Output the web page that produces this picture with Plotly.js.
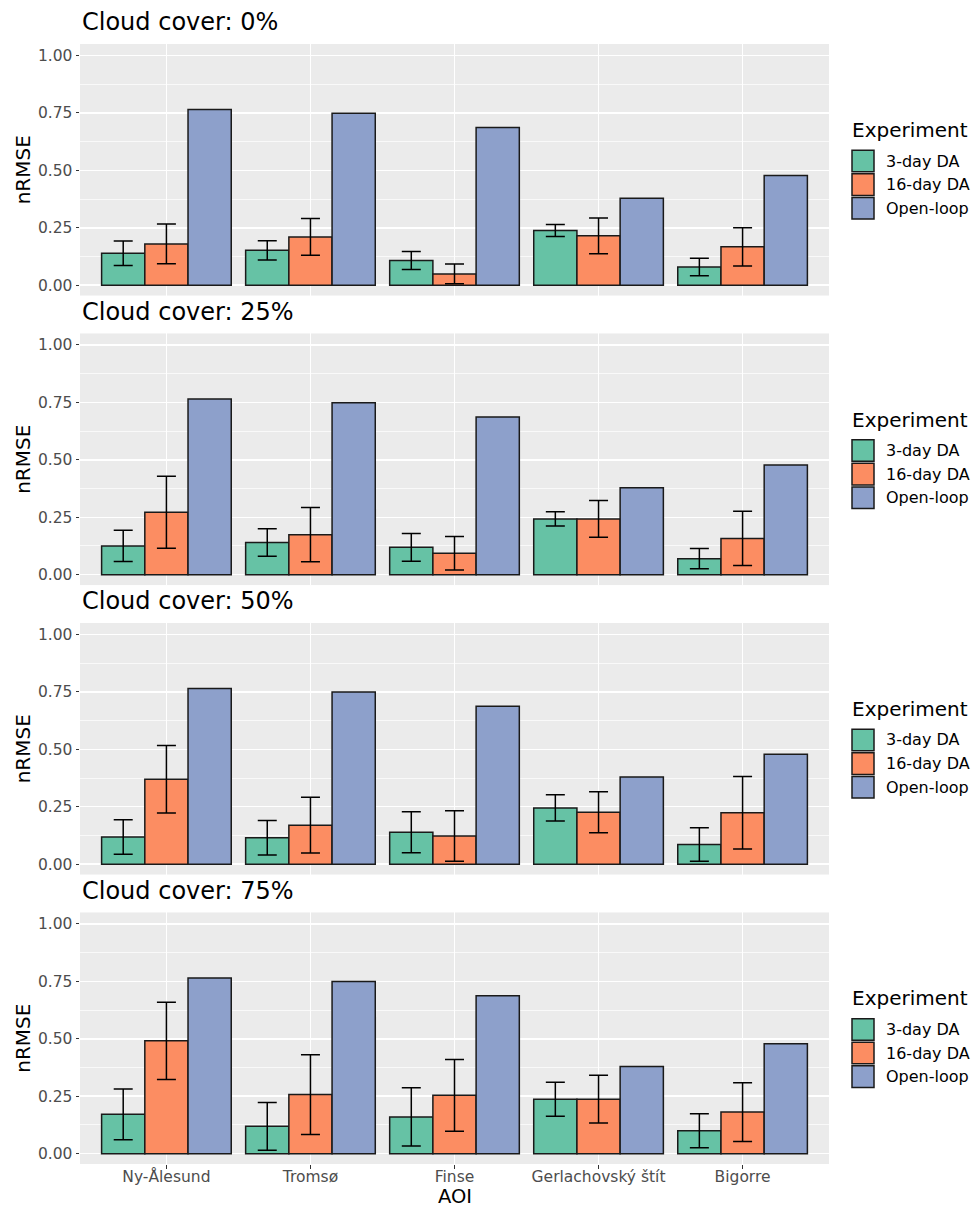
<!DOCTYPE html>
<html>
<head>
<meta charset="utf-8">
<script src="https://cdn.plot.ly/plotly-3.0.1.min.js"></script>
<style>
  html, body { margin: 0; padding: 0; background: #ffffff; }
  #chart { width: 972px; height: 1209px; }
</style>
</head>
<body>
<div id="chart"></div>
<script>
// Areas of interest (x categories) and experiments (bar series)
const aoi = ['Ny-Ålesund', 'Tromsø', 'Finse', 'Gerlachovský štít', 'Bigorre'];
const experiments = ['3-day DA', '16-day DA', 'Open-loop'];
const cloudCover = [0, 25, 50, 75];
const expColors = ['#66C2A5', '#FC8D62', '#8DA0CB'];
const yTicks = [0, 0.25, 0.5, 0.75, 1.0];

// Open-loop nRMSE (independent of cloud cover)
const openLoop = [0.765, 0.749, 0.687, 0.379, 0.478];

// 3-day DA: mean nRMSE and standard deviation per cloud cover
const da3_cc0  = [0.139, 0.152, 0.108, 0.238, 0.079];
const da3_sd0  = [0.053, 0.042, 0.039, 0.026, 0.038];
const da3_cc25 = [0.125, 0.140, 0.119, 0.243, 0.070];
const da3_sd25 = [0.068, 0.060, 0.060, 0.031, 0.044];
const da3_cc50 = [0.118, 0.115, 0.139, 0.245, 0.086];
const da3_sd50 = [0.075, 0.075, 0.089, 0.057, 0.073];
const da3_cc75 = [0.171, 0.119, 0.160, 0.237, 0.100];
const da3_sd75 = [0.110, 0.104, 0.127, 0.074, 0.074];

// 16-day DA: mean nRMSE and standard deviation per cloud cover
const da16_cc0  = [0.180, 0.210, 0.049, 0.215, 0.167];
const da16_sd0  = [0.086, 0.080, 0.043, 0.078, 0.083];
const da16_cc25 = [0.272, 0.174, 0.093, 0.243, 0.158];
const da16_sd25 = [0.157, 0.118, 0.073, 0.080, 0.118];
const da16_cc50 = [0.370, 0.170, 0.123, 0.226, 0.224];
const da16_sd50 = [0.147, 0.121, 0.110, 0.089, 0.158];
const da16_cc75 = [0.491, 0.257, 0.254, 0.237, 0.181];
const da16_sd75 = [0.168, 0.174, 0.156, 0.104, 0.128];

const da3 = [da3_cc0, da3_cc25, da3_cc50, da3_cc75];
const da3sd = [da3_sd0, da3_sd25, da3_sd50, da3_sd75];
const da16 = [da16_cc0, da16_cc25, da16_cc50, da16_cc75];
const da16sd = [da16_sd0, da16_sd25, da16_sd50, da16_sd75];

// ---- layout geometry (pixels) ----
const W = 972, H = 1209;
const M = { l: 80, r: 143, t: 44, b: 45.3 };
const plotW = W - M.l - M.r;
const plotH = H - M.t - M.b;
const panelH = 251.5;
const panelStep = 289.4;
const panelTops = cloudCover.map((c, i) => M.t + i * panelStep);

const FONT = 'DejaVu Sans, Liberation Sans, sans-serif';
const px2x = px => (px - M.l) / plotW;
const px2y = py => (H - M.b - py) / plotH;

const traces = [];
const layout = {
  width: W, height: H,
  margin: M,
  paper_bgcolor: '#FFFFFF',
  plot_bgcolor: '#EBEBEB',
  barmode: 'group',
  bargap: 0.1,
  bargroupgap: 0,
  showlegend: false,
  font: { family: FONT, color: '#000000' },
  annotations: [],
  shapes: []
};

cloudCover.forEach((cc, i) => {
  const k = i + 1;
  const xa = k === 1 ? 'x' : 'x' + k;
  const ya = k === 1 ? 'y' : 'y' + k;
  const top = panelTops[i];
  const bottom = top + panelH;
  const isBottom = i === cloudCover.length - 1;

  const series = [
    { y: da3[i], sd: da3sd[i] },
    { y: da16[i], sd: da16sd[i] },
    { y: openLoop, sd: null }
  ];
  series.forEach((s, j) => {
    const t = {
      type: 'bar',
      name: experiments[j],
      x: aoi,
      y: s.y,
      xaxis: xa, yaxis: ya,
      marker: { color: expColors[j], line: { color: '#1A1A1A', width: 1.5 } },
      hovertemplate: '%{x}<br>' + experiments[j] + ': %{y:.3f}<extra>Cloud cover ' + cc + '%</extra>'
    };
    if (s.sd) {
      t.error_y = { type: 'data', array: s.sd, visible: true, color: '#000000', thickness: 1.5, width: 9.5 };
    }
    traces.push(t);
  });

  layout['xaxis' + (k === 1 ? '' : k)] = {
    domain: [0, 1],
    anchor: ya,
    type: 'category',
    categoryorder: 'array',
    categoryarray: aoi,
    range: [-0.6, 4.6],
    showgrid: true, gridcolor: '#FFFFFF', gridwidth: 1.5,
    zeroline: false, showline: false,
    showticklabels: isBottom,
    ticks: isBottom ? 'outside' : '',
    ticklen: 3.5, tickwidth: 1, tickcolor: '#333333',
    ticklabelstandoff: -5,
    tickfont: { family: FONT, size: 15.5, color: '#4D4D4D' },
    fixedrange: true
  };
  layout['yaxis' + (k === 1 ? '' : k)] = {
    domain: [px2y(bottom), px2y(top)],
    anchor: xa,
    range: [-0.045, 1.05],
    tickmode: 'array',
    tickvals: yTicks,
    ticktext: yTicks.map(v => v.toFixed(2)),
    showgrid: true, gridcolor: '#FFFFFF', gridwidth: 1.5,
    minor: { tickmode: 'array', tickvals: [0.125, 0.375, 0.625, 0.875], showgrid: true, gridcolor: '#FFFFFF', gridwidth: 0.7, ticks: '' },
    zeroline: false, showline: false,
    ticks: 'outside', ticklen: 3.5, tickwidth: 1, tickcolor: '#333333',
    tickfont: { family: FONT, size: 15.5, color: '#4D4D4D' },
    title: { text: 'nRMSE', font: { family: FONT, size: 20, color: '#000000' }, standoff: 1 },
    fixedrange: true
  };

  // panel title
  layout.annotations.push({
    text: 'Cloud cover: ' + cc + '%',
    xref: 'paper', yref: 'paper',
    x: px2x(80), y: px2y(top - 21.5),
    xanchor: 'left', yanchor: 'middle',
    showarrow: false,
    font: { family: FONT, size: 24, color: '#000000' }
  });

  // legend for the panel
  layout.annotations.push({
    text: 'Experiment',
    xref: 'paper', yref: 'paper',
    x: px2x(850), y: px2y(top + 86),
    xanchor: 'left', yanchor: 'middle',
    showarrow: false,
    font: { family: FONT, size: 20, color: '#000000' }
  });
  experiments.forEach((name, j) => {
    const cy = top + 117 + j * 23.6;
    layout.shapes.push({
      type: 'rect', xref: 'paper', yref: 'paper',
      x0: px2x(852), x1: px2x(874),
      y0: px2y(cy - 10.8), y1: px2y(cy + 10.8),
      fillcolor: expColors[j],
      line: { color: '#1A1A1A', width: 1.5 }
    });
    layout.annotations.push({
      text: name,
      xref: 'paper', yref: 'paper',
      x: px2x(884), y: px2y(cy),
      xanchor: 'left', yanchor: 'middle',
      showarrow: false,
      font: { family: FONT, size: 16, color: '#000000' }
    });
  });
});

// shared x-axis title under the bottom panel
layout.annotations.push({
  text: 'AOI',
  xref: 'paper', yref: 'paper',
  x: 0.5, y: px2y(1209),
  xanchor: 'center', yanchor: 'bottom',
  borderpad: 0,
  showarrow: false,
  font: { family: FONT, size: 19.5, color: '#000000' }
});

Plotly.newPlot('chart', traces, layout, { displayModeBar: false, staticPlot: true });
</script>
</body>
</html>
